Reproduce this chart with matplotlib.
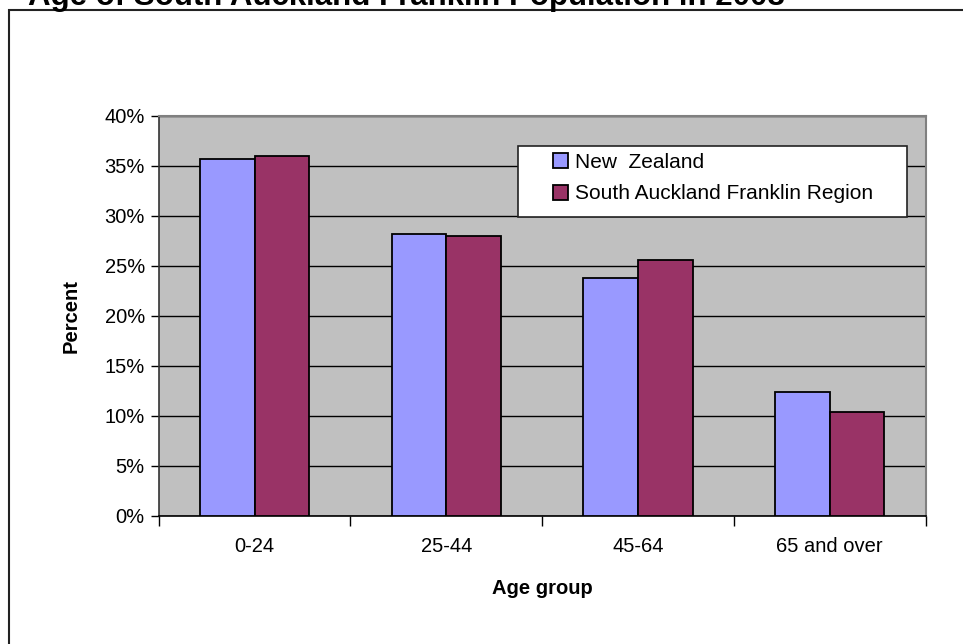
import matplotlib
matplotlib.use('Agg')
import matplotlib.pyplot as plt
from matplotlib.patches import Rectangle
from matplotlib.ticker import FuncFormatter
import numpy as np

plt.rcParams['font.family'] = ['Liberation Sans', 'DejaVu Sans']

# data
age_groups = ['0-24', '25-44', '45-64', '65 and over']
nz_pct = [35.7, 28.2, 23.8, 12.4]
safr_pct = [36.0, 28.0, 25.6, 10.4]
series_names = ['New  Zealand', 'South Auckland Franklin Region']

W, H = 963, 644
fig = plt.figure(figsize=(W / 100, H / 100), dpi=100)

# outer chart border (only left/top visible, rest cropped)
fig.patches.append(Rectangle((8.5 / W, -0.2), 2.0, 1.2 - 10 / H,
                             transform=fig.transFigure, fill=False,
                             edgecolor='#222222', linewidth=1.5, zorder=0))

ax = fig.add_axes([158.7 / W, (H - 515.7) / H, (925.5 - 158.7) / W, 400 / H])
ax.set_facecolor('#C0C0C0')

x = np.arange(len(age_groups))
bw = 0.285
ax.bar(x - bw / 2, nz_pct, bw, color='#9999FF', edgecolor='black',
       linewidth=1.3, label=series_names[0], zorder=3)
ax.bar(x + bw / 2, safr_pct, bw, color='#993366', edgecolor='black',
       linewidth=1.3, label=series_names[1], zorder=3)

ax.set_xlim(-0.5, len(age_groups) - 0.5)
ax.set_ylim(0, 40)
ax.set_yticks(np.arange(0, 41, 5))
ax.yaxis.set_major_formatter(FuncFormatter(lambda v, p: '%d%%' % v))
ax.yaxis.grid(True, color='black', linewidth=1.0, zorder=1)
ax.set_axisbelow(True)

# category ticks at boundaries, labels centred
ax.set_xticks(np.arange(-0.5, len(age_groups), 1.0))
ax.set_xticklabels([])
ax.set_xticks(x, minor=True)
ax.set_xticklabels(age_groups, minor=True)
ax.tick_params(axis='x', which='minor', length=0, pad=15, labelsize=14.5)
ax.tick_params(axis='x', which='major', length=7, width=1, color='black')
ax.tick_params(axis='y', length=6, width=1, pad=4, labelsize=14.5)

for s in ['top', 'right']:
    ax.spines[s].set_color('#808080')
    ax.spines[s].set_linewidth(1.5)
ax.spines['left'].set_color('#333333')
ax.spines['bottom'].set_color('black')
ax.spines['left'].set_linewidth(1.2)
ax.spines['bottom'].set_linewidth(1.2)

ax.set_ylabel('Percent', fontsize=14.5, fontweight='bold', labelpad=17)
ax.set_xlabel('Age group', fontsize=14.5, fontweight='bold', labelpad=17)

# legend box
fig.patches.append(Rectangle((517.7 / W, 1 - 217.3 / H), 389.6 / W, 71.6 / H,
                             transform=fig.transFigure, facecolor='white',
                             edgecolor='#222222', linewidth=1.2, zorder=4))
fig.legend(loc='center left', bbox_to_anchor=(553 / W, 1 - 178 / H),
           frameon=False, fontsize=15, handlelength=0.72, handleheight=0.72,
           handletextpad=0.35, labelspacing=0.62, borderpad=0,
           borderaxespad=0)

fig.text(28 / W, 1 - 5 / H, 'Age of South Auckland Franklin Population in 2008',
         fontsize=22.5, fontweight='bold', ha='left', va='baseline')

fig.savefig('out.png', dpi=100)
